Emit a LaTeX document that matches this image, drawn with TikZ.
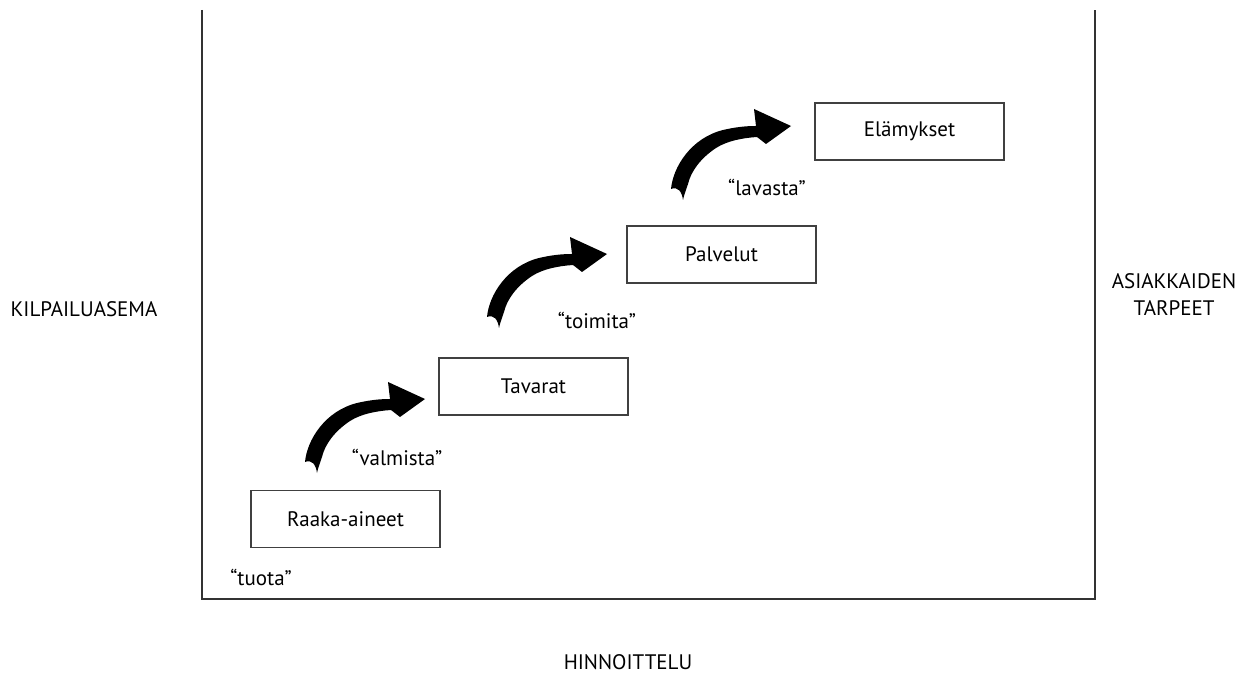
\documentclass[tikz,border=0pt]{standalone}
\usepackage{fontspec}
\setmainfont{PT Sans}
\tikzset{
  stagebox/.style={draw=black!75, line width=0.75pt, minimum width=94.5pt,
    minimum height=28.5pt, inner sep=0pt, font=\fontsize{10.5}{12}\selectfont},
  verblabel/.style={inner sep=0pt, font=\fontsize{10.5}{12}\selectfont},
  axislabel/.style={inner sep=0pt, align=center, font=\fontsize{10.5}{13.5}\selectfont},
  frameline/.style={draw=black!80, line width=1pt},
  % curved block arrow with a forked tail
  flow/.pic={
    \fill[black] (305,462)
      .. controls (307,440) and (325,411) .. (357,403)
      .. controls (370,400) and (380,399) .. (390,399)
      -- (388,382) -- (425,399) -- (400,417) -- (391,410)
      .. controls (376,411) and (361,414) .. (350,421)
      .. controls (335,431) and (325,444) .. (322,457)
      .. controls (320,463) and (318,468) .. (317,473)
      .. controls (316,465) and (312,459) .. cycle;
  }
}
\begin{document}
\begin{tikzpicture}[x=0.5pt, y=-0.5pt]
\useasboundingbox (0,0) rectangle (1252,673);

% three-sided frame
\draw[frameline] (202,10) -- (202,599) -- (1095,599) -- (1095,10);

% stages
\node[stagebox] (raw)   at (345.5,519)   {Raaka-aineet};
\node[stagebox] (goods) at (533.5,386.5) {Tavarat};
\node[stagebox] (serv)  at (721.5,254.5) {Palvelut};
\node[stagebox] (exp)   at (909.5,131.5) {Elämykset};

% verbs
\node[verblabel] (produce) at (261,577) {“tuota”};
\node[verblabel] (make)    at (397,457) {“valmista”};
\node[verblabel] (deliver) at (597,320) {“toimita”};
\node[verblabel] (stage)   at (767,187) {“lavasta”};

% step arrows
\pic at (0,0) {flow};
\pic at (182,-145) {flow};
\pic at (366,-273) {flow};

% axis labels
\node[axislabel] (left)   at (84,309)  {KILPAILUASEMA};
\node[axislabel] (right)  at (1174,295) {ASIAKKAIDEN\\TARPEET};
\node[axislabel] (bottom) at (628,662) {HINNOITTELU};
\end{tikzpicture}
\end{document}
